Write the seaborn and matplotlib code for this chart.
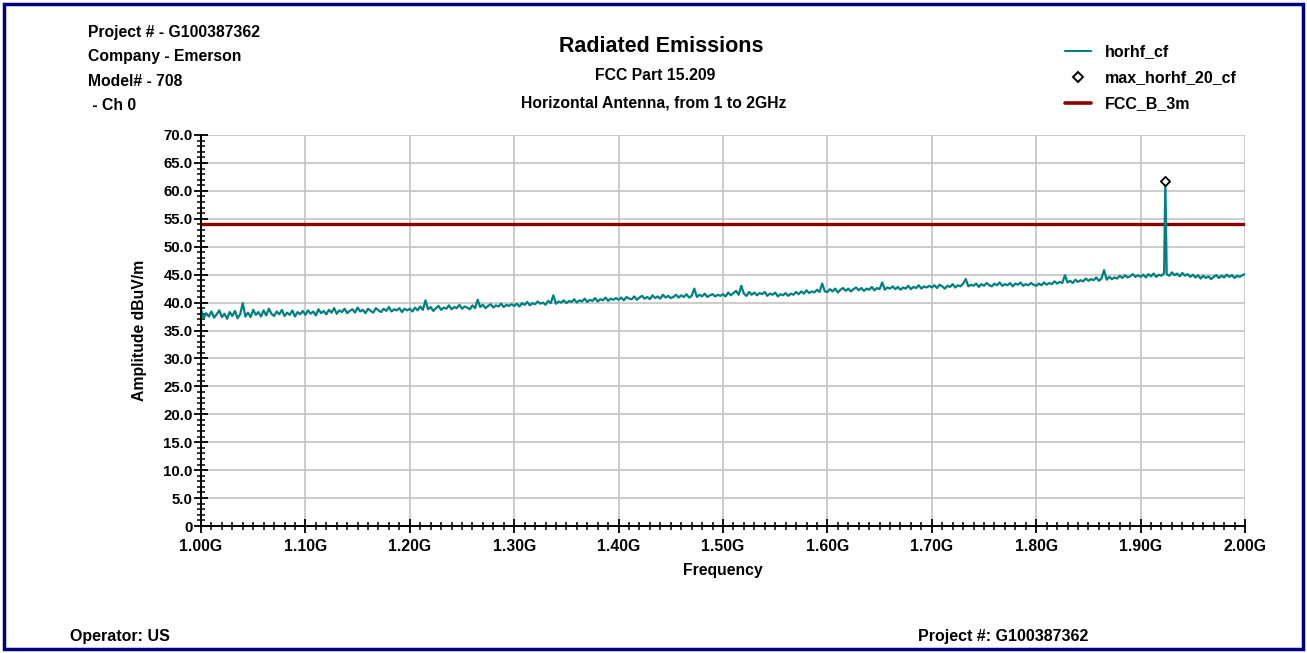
import numpy as np
import pandas as pd
import matplotlib
matplotlib.use("Agg")
import matplotlib.pyplot as plt
from matplotlib.lines import Line2D
from matplotlib.patches import Rectangle
from matplotlib.ticker import MultipleLocator, FuncFormatter
import seaborn as sns

# ---------------- data ----------------
sweep_start_ghz = 1.000
sweep_step_ghz = 0.0025
horhf_cf = [
    # 1.00 - 1.10 GHz
    38.8, 37.2, 38.1, 37.5, 38.4, 37.3, 37.9, 38.6, 37.4, 38.0,
    37.1, 38.3, 37.6, 38.5, 37.2, 37.9, 39.9, 37.5, 38.2, 37.4,
    38.7, 37.8, 38.3, 37.5, 38.6, 37.7, 38.9, 38.0, 37.6, 38.4,
    37.9, 38.7, 37.6, 38.2, 37.8, 38.6, 37.5, 38.3, 37.9, 38.5,
    # 1.10 - 1.20 GHz
    37.8, 38.6, 38.0, 38.4, 37.7, 38.8, 38.1, 38.5, 37.9, 38.7,
    38.2, 39.0, 38.0, 38.6, 38.3, 38.9, 38.1, 38.5, 38.8, 38.2,
    39.1, 38.4, 38.7, 38.1, 38.9, 38.5, 38.2, 39.0, 38.6, 38.3,
    38.9, 38.5, 39.2, 38.4, 38.8, 38.6, 39.0, 38.3, 38.9, 38.6,
    # 1.20 - 1.30 GHz
    38.9, 38.4, 39.1, 38.6, 39.3, 38.7, 40.4, 38.8, 39.2, 38.5,
    39.0, 39.4, 38.7, 39.1, 38.9, 39.5, 38.8, 39.2, 39.0, 39.6,
    38.9, 39.3, 39.1, 38.8, 39.5, 39.0, 40.5, 39.2, 39.6, 39.0,
    39.4, 39.7, 39.1, 39.5, 39.3, 39.8, 39.2, 39.6, 39.4, 39.7,
    # 1.30 - 1.40 GHz
    39.4, 39.8, 39.3, 39.9, 39.6, 40.1, 39.5, 39.9, 39.7, 40.2,
    39.8, 40.0, 39.6, 40.3, 39.9, 41.3, 39.8, 40.2, 40.0, 40.4,
    39.9, 40.3, 40.1, 40.6, 40.0, 40.4, 40.2, 40.7, 40.1, 40.5,
    40.3, 40.8, 40.2, 40.6, 40.4, 40.9, 40.3, 40.7, 40.5, 40.8,
    # 1.40 - 1.50 GHz
    40.5, 40.9, 40.4, 41.0, 40.7, 40.6, 41.1, 40.5, 40.9, 41.2,
    40.7, 41.0, 40.6, 41.3, 40.8, 41.1, 40.7, 41.4, 40.9, 41.2,
    40.8, 41.0, 41.4, 40.9, 41.3, 41.0, 41.5, 40.9, 41.2, 42.5,
    41.0, 41.4, 41.1, 41.6, 41.0, 41.3, 41.5, 41.1, 41.4, 41.2,
    # 1.50 - 1.60 GHz
    41.5, 41.1, 41.8, 41.3, 41.7, 42.1, 41.4, 43.0, 41.6, 41.2,
    41.9, 41.4, 41.8, 41.3, 41.7, 41.5, 41.9, 41.2, 41.6, 41.4,
    41.8, 41.1, 41.5, 41.3, 41.7, 41.2, 41.6, 41.4, 41.9, 41.5,
    42.0, 41.6, 42.2, 41.7, 42.0, 41.8, 42.3, 41.9, 43.4, 42.0,
    # 1.60 - 1.70 GHz
    41.9, 42.4, 42.0, 42.5, 41.8, 42.3, 42.6, 42.1, 42.5, 42.0,
    42.4, 42.7, 42.2, 42.6, 42.1, 42.5, 42.3, 42.8, 42.2, 42.6,
    42.4, 43.6, 42.3, 42.7, 42.5, 42.9, 42.4, 42.8, 42.3, 42.7,
    42.5, 43.0, 42.4, 42.8, 42.6, 43.1, 42.5, 42.9, 42.7, 43.0,
    # 1.70 - 1.80 GHz
    42.7, 43.1, 42.6, 43.2, 42.9, 42.5, 43.0, 42.8, 43.3, 42.7,
    43.1, 42.9, 43.4, 44.2, 42.9, 43.2, 43.0, 43.4, 42.8, 43.3,
    43.0, 43.5, 43.1, 42.9, 43.4, 43.1, 43.6, 43.0, 43.3, 43.1,
    43.5, 42.9, 43.4, 43.2, 43.6, 43.0, 43.3, 43.1, 43.5, 43.2,
    # 1.80 - 1.90 GHz
    43.0, 43.4, 43.1, 43.6, 43.2, 43.5, 43.3, 43.8, 43.4, 43.7,
    43.5, 44.9, 43.6, 43.9, 43.5, 44.1, 43.7, 44.0, 43.8, 44.3,
    43.9, 44.2, 44.0, 44.5, 43.9, 44.3, 45.8, 44.1, 44.6, 44.2,
    44.5, 44.3, 44.8, 44.4, 44.9, 44.5, 44.7, 45.1, 44.6, 44.9,
    # 1.90 - 2.00 GHz
    44.6, 45.0, 44.5, 45.1, 44.7, 45.2, 44.6, 45.0, 44.8, 45.3,
    45.1, 44.8, 45.4, 44.9, 45.2, 44.7, 45.3, 44.8, 45.1, 44.6,
    45.0, 44.5, 44.9, 44.3, 44.8, 44.4, 44.7, 44.2, 44.6, 44.9,
    44.4, 44.8, 44.5, 45.0, 44.6, 44.9, 44.4, 44.8, 44.6, 44.9,
    45.1,
]
spike_freq_ghz = [1.9237]
spike_amp = [61.8]
max_freq_ghz = [1.9237]
max_amp = [61.8]
limit_freq_ghz = [1.0, 2.0]
limit_amp = [54.0, 54.0]

freq = list(np.round(sweep_start_ghz + sweep_step_ghz * np.arange(len(horhf_cf)), 5))
trace = pd.DataFrame({"freq": freq + spike_freq_ghz, "amp": horhf_cf + spike_amp}).sort_values("freq")
limit = pd.DataFrame({"freq": limit_freq_ghz, "amp": limit_amp})
peak = pd.DataFrame({"freq": max_freq_ghz, "amp": max_amp})

# ---------------- style ----------------
sns.set_theme(style="white")
plt.rcParams["font.family"] = ["Liberation Sans", "DejaVu Sans"]
plt.rcParams["font.weight"] = "bold"
plt.rcParams["text.color"] = "black"
plt.rcParams["axes.labelcolor"] = "black"
plt.rcParams["xtick.color"] = "black"
plt.rcParams["ytick.color"] = "black"

W, H = 1307, 653
fig = plt.figure(figsize=(W / 100, H / 100), dpi=100)
fig.patch.set_facecolor("white")
ax = fig.add_axes([201 / W, 1 - 526 / H, (1245 - 201) / W, (526 - 135) / H])

TEAL = "#008080"
DARKRED = "#8B0000"
NAVY = "#00007F"

sns.lineplot(data=limit, x="freq", y="amp", ax=ax, color=DARKRED, lw=2.4, zorder=3, legend=False)
sns.lineplot(data=trace, x="freq", y="amp", ax=ax, color=TEAL, lw=1.6, zorder=4,
             sort=False, estimator=None, legend=False)
sns.scatterplot(data=peak, x="freq", y="amp", ax=ax, marker="D", s=22, facecolor="white",
                edgecolor="black", linewidth=1.3, zorder=5, legend=False)

ax.set_xlim(1.0, 2.0)
ax.set_ylim(0, 70)
ax.xaxis.set_major_locator(MultipleLocator(0.1))
ax.xaxis.set_minor_locator(MultipleLocator(0.01))
ax.yaxis.set_major_locator(MultipleLocator(5))
ax.yaxis.set_minor_locator(MultipleLocator(1))
ax.xaxis.set_major_formatter(FuncFormatter(lambda v, p: f"{v:.2f}G"))
ax.yaxis.set_major_formatter(FuncFormatter(lambda v, p: "0" if abs(v) < 1e-9 else f"{v:.1f}"))
ax.grid(True, which="major", color="#C4C4C4", lw=1.2, zorder=0)
ax.set_axisbelow(True)
for s in ["top", "right"]:
    ax.spines[s].set_visible(False)
for s in ["left", "bottom"]:
    ax.spines[s].set_color("black")
    ax.spines[s].set_linewidth(1.4)
    ax.spines[s].set_zorder(6)
ax.tick_params(which="major", direction="inout", length=10, width=1.3, color="black",
               left=True, bottom=True)
ax.tick_params(which="minor", direction="inout", length=6, width=1.1, color="black",
               left=True, bottom=True)
ax.tick_params(axis="x", which="major", labelsize=11.3, pad=4.5)
ax.tick_params(axis="y", which="major", labelsize=10.8, pad=1)
for lab in ax.get_xticklabels() + ax.get_yticklabels():
    lab.set_fontweight("bold")
ax.set_xlabel("Frequency", fontsize=11.3, fontweight="bold", labelpad=6.5)
ax.set_ylabel("Amplitude dBuV/m", fontsize=11.3, fontweight="bold", labelpad=11.5)

# ---------------- texts ----------------
def ftext(x, y, s, size=11.3, ha="left"):
    fig.text(x / W, 1 - (y + 2) / H, s, fontsize=size, fontweight="bold", ha=ha, va="center")

ftext(88, 31, "Project # - G100387362")
ftext(88, 55, "Company - Emerson")
ftext(88, 80, "Model# - 708")
ftext(88, 104, " - Ch 0")
ftext(661, 45, "Radiated Emissions", size=15.5, ha="center")
ftext(655, 74, "FCC Part 15.209", ha="center")
ftext(654, 101, "Horizontal Antenna, from 1 to 2GHz", ha="center")
ftext(70, 635, "Operator: US", size=11.5)
ftext(918, 635, "Project #: G100387362", size=11.5)

handles = [
    Line2D([], [], color=TEAL, lw=1.5),
    Line2D([], [], ls="none", marker="D", markersize=4.8, markerfacecolor="white",
           markeredgecolor="black", markeredgewidth=1.4),
    Line2D([], [], color=DARKRED, lw=2.6),
]
fig.legend(handles, ["horhf_cf", "max_horhf_20_cf", "FCC_B_3m"], loc="upper left",
           bbox_to_anchor=(1051 / W, 1 - 30 / H), frameon=False, handlelength=1.6,
           handletextpad=0.9, labelspacing=0.69, prop={"weight": "bold", "size": 11.5})

# border
fig.add_artist(Rectangle((4 / W, 4 / H), (W - 8) / W, (H - 8) / H, transform=fig.transFigure,
                         fill=False, edgecolor=NAVY, lw=2.5))

fig.savefig("out.png", dpi=100, facecolor="white")
